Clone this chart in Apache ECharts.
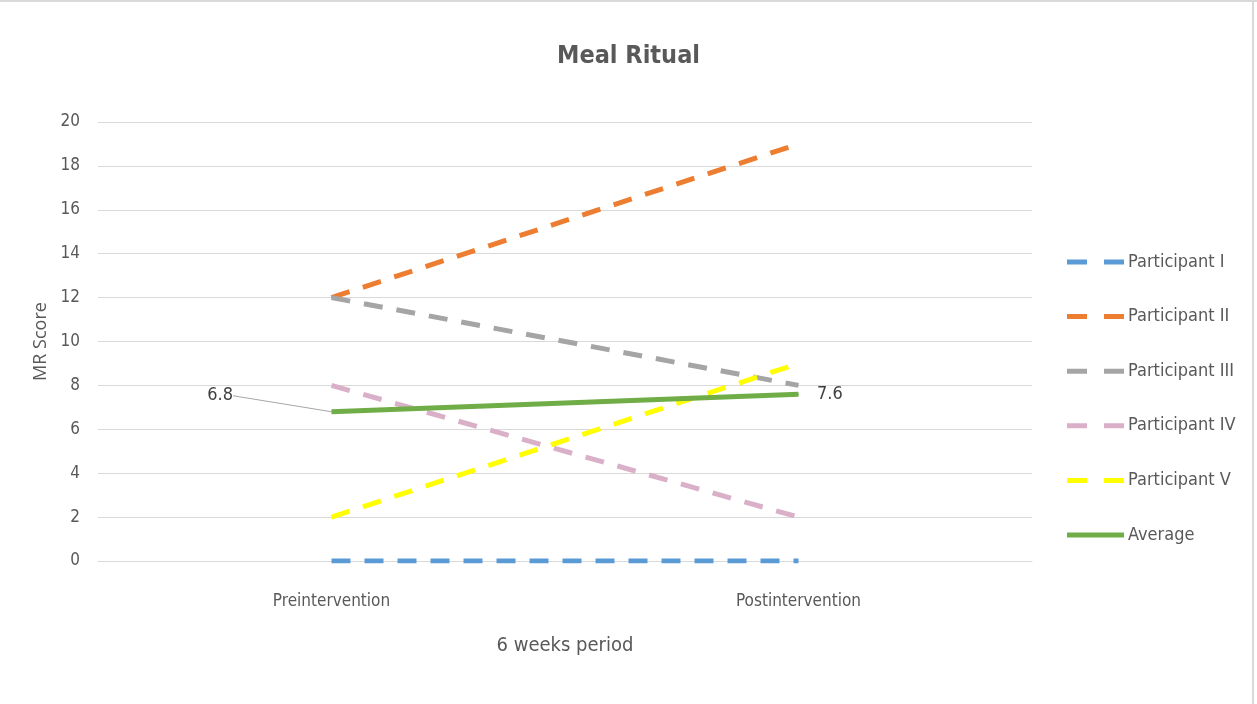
<!DOCTYPE html>
<html>
<head>
<meta charset="utf-8">
<title>Meal Ritual</title>
<script src="https://cdn.jsdelivr.net/npm/echarts@6/dist/echarts.min.js"></script>
<style>
  html, body { margin: 0; padding: 0; background: #fff; }
  #chart { width: 1257px; height: 704px; }
</style>
</head>
<body>
<div id="chart"></div>
<script>
// Meal Ritual scores per participant, before and after the 6-week period
const categories = ['Preintervention', 'Postintervention'];
const seriesNames = ['Participant I', 'Participant II', 'Participant III', 'Participant IV', 'Participant V', 'Average'];
const participant1 = [0, 0];
const participant2 = [12, 19];
const participant3 = [12, 8];
const participant4 = [8, 2];
const participant5 = [2, 9];
const average = [6.8, 7.6];
const yTicks = { min: 0, max: 20, interval: 2 };

const FONT = '"Liberation Sans Narrow", "DejaVu Sans Condensed", "Open Sans", sans-serif';
const TEXT = '#595959';
const colors = ['#5b9bd5', '#ed7d31', '#a5a5a5', '#d9b0c8', '#ffff00', '#70ad47'];

// legend icons: two short dashes, or one solid bar for the average
const DASH_ICON = 'path://M0,0h20v5h-20z M37,0h20v5h-20z';
const SOLID_ICON = 'path://M0,0h57v5h-57z';

function dashed(name, data, color) {
  return {
    name, type: 'line', data, symbol: 'none', z: 2,
    lineStyle: { color, width: 5, type: [19, 14] },
    itemStyle: { color }
  };
}

const chart = echarts.init(document.getElementById('chart'));
chart.setOption({
  animation: false,
  textStyle: { fontFamily: FONT },
  title: {
    text: 'Meal Ritual', left: 'center', top: 39,
    textStyle: { fontFamily: FONT, fontSize: 25, fontWeight: 'bold', color: TEXT }
  },
  grid: { left: 98, right: 225, top: 122, bottom: 143 },
  legend: {
    orient: 'vertical', left: 1062, top: 248, itemGap: 36.6,
    itemWidth: 57, itemHeight: 5,
    textStyle: { fontFamily: FONT, fontSize: 18, color: TEXT, padding: [0, 0, 0, -1] },
    data: seriesNames.map((name, i) => ({ name, icon: i === 5 ? SOLID_ICON : DASH_ICON }))
  },
  graphic: [
    { type: 'line', shape: { x1: 0, y1: 1, x2: 1257, y2: 1 }, style: { stroke: '#d9d9d9', lineWidth: 2 } },
    { type: 'line', shape: { x1: 1253, y1: 0, x2: 1253, y2: 704 }, style: { stroke: '#d9d9d9', lineWidth: 2 } }
  ],
  xAxis: {
    type: 'category', data: categories, boundaryGap: true,
    name: '6 weeks period', nameLocation: 'middle', nameGap: 75,
    nameTextStyle: { fontFamily: FONT, fontSize: 20, color: TEXT },
    axisLine: { show: true, lineStyle: { color: '#d9d9d9' } },
    axisTick: { show: false },
    axisLabel: { fontFamily: FONT, fontSize: 17, color: TEXT, margin: 32 }
  },
  yAxis: {
    type: 'value', min: yTicks.min, max: yTicks.max, interval: yTicks.interval,
    name: 'MR Score', nameLocation: 'middle', nameGap: 44,
    nameTextStyle: { fontFamily: '"Open Sans", sans-serif', fontSize: 18, color: TEXT },
    axisLine: { show: false }, axisTick: { show: false },
    axisLabel: { fontFamily: FONT, fontSize: 17, color: TEXT, margin: 18 },
    splitLine: { lineStyle: { color: '#d9d9d9', width: 1 } }
  },
  series: [
    dashed(seriesNames[0], participant1, colors[0]),
    dashed(seriesNames[1], participant2, colors[1]),
    dashed(seriesNames[2], participant3, colors[2]),
    dashed(seriesNames[3], participant4, colors[3]),
    dashed(seriesNames[4], participant5, colors[4]),
    {
      name: seriesNames[5], type: 'line', z: 3,
      symbol: 'circle', symbolSize: 1, showSymbol: true,
      lineStyle: { color: colors[5], width: 5 },
      itemStyle: { color: colors[5] },
      label: { show: true, fontFamily: FONT, fontSize: 18, color: '#404040' },
      labelLine: { show: true, lineStyle: { color: '#a6a6a6', width: 1 } },
      // the first value label sits up and to the left, joined by a leader line
      labelLayout: (p) => (p.dataIndex === 0 ? { dx: -92, dy: -16 } : {}),
      data: [
        { value: average[0], label: { position: 'left', distance: 0, padding: [0, 6, 0, 0] } },
        { value: average[1], label: { position: 'right', distance: 18 }, labelLine: { show: false } }
      ]
    }
  ]
});
</script>
</body>
</html>
